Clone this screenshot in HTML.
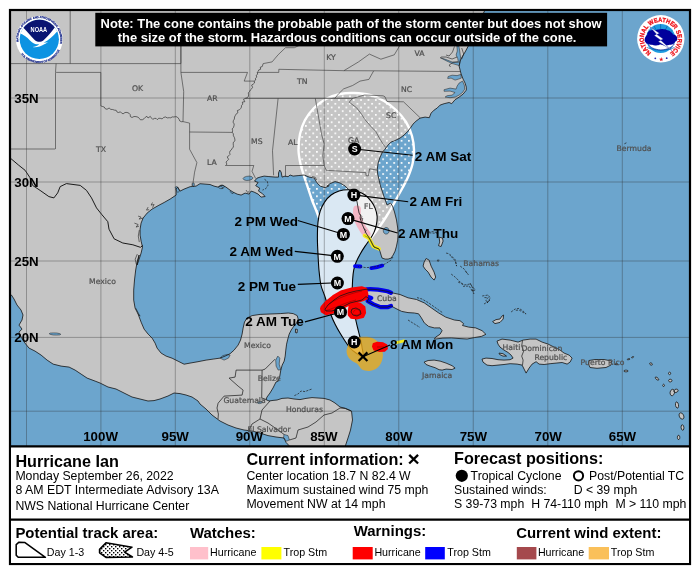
<!DOCTYPE html>
<html lang="en"><head><meta charset="utf-8"><title>Hurricane Ian - NHC Forecast Cone</title>
<style>
html,body{margin:0;padding:0;background:#fff;}
body{width:700px;height:574px;overflow:hidden;font-family:"Liberation Sans",sans-serif;}
svg{display:block;will-change:transform}
text{font-family:"Liberation Sans",sans-serif;}
.b{font-weight:bold}
.t16{font-size:16.2px;font-weight:bold}
.t15{font-size:14.95px;font-weight:bold}
.t12{font-size:12.27px}
.t11{font-size:10.7px}
.ml{font-size:13.5px;font-weight:bold}
.gl{font-size:13.3px;font-weight:bold}
.pl{font-size:7.7px;fill:#505050;stroke:#505050;stroke-width:0.22px;font-family:"DejaVu Sans","Liberation Sans",sans-serif}
.mk{font-size:8.9px;font-weight:bold;fill:#fff;text-anchor:middle}
</style></head><body>
<svg width="700" height="574" viewBox="0 0 700 574">
<defs>
<clipPath id="mapclip"><rect x="10" y="10" width="680" height="436"/></clipPath>
<pattern id="dots" x="327.1" y="102.9" width="7.36" height="7.4" patternUnits="userSpaceOnUse">
<rect x="0" y="0" width="1.7" height="1.7" fill="#fff"/><rect x="3.68" y="3.7" width="1.7" height="1.7" fill="#fff"/>
</pattern>
</defs>
<rect x="0" y="0" width="700" height="574" fill="#fff"/>
<g clip-path="url(#mapclip)">

<rect x="10" y="10" width="680" height="436" fill="#6ca5cd"/>
<path d="M8.0,8.0 L486.0,8.0 L470.0,40.0 L468.1,46.4 L465.1,52.0 L462.1,57.0 L460.1,61.0 L459.1,66.0 L460.1,70.0 L461.1,74.0 L463.1,79.1 L465.1,83.1 L466.3,87.1 L466.3,90.1 L463.1,94.1 L459.1,97.1 L455.1,99.7 L451.7,103.7 L449.1,102.5 L444.1,103.7 L440.1,105.1 L437.1,108.1 L434.1,110.1 L431.1,113.1 L429.3,117.7 L425.1,117.1 L420.1,118.1 L416.1,121.1 L413.0,124.1 L411.0,127.1 L408.0,131.1 L404.0,135.1 L400.0,138.1 L396.0,140.1 L391.0,142.1 L388.0,145.1 L385.0,149.2 L382.4,152.2 L380.1,157.1 L378.1,163.1 L377.3,169.1 L377.7,174.1 L379.1,180.1 L380.5,186.1 L382.5,192.1 L384.5,198.2 L387.1,205.0 L390.5,203.0 L392.5,206.0 L394.5,212.0 L396.5,220.0 L397.7,228.0 L398.1,234.0 L397.7,240.1 L396.5,246.1 L395.1,251.1 L393.1,255.1 L391.1,258.1 L388.1,259.1 L385.1,259.1 L382.1,258.1 L381.1,255.1 L380.1,251.7 L379.1,249.1 L374.0,247.1 L372.0,243.1 L370.0,239.1 L368.0,236.1 L366.0,233.0 L362.1,224.1 L360.1,218.1 L360.5,215.1 L359.1,213.1 L358.1,208.1 L357.1,202.0 L355.1,196.0 L348.1,189.0 L345.1,186.0 L340.1,183.0 L335.1,181.6 L330.1,183.6 L327.1,186.0 L329.2,185.7 L325.2,187.7 L320.2,186.1 L317.2,183.1 L314.2,178.1 L309.2,177.1 L304.1,175.0 L298.1,175.6 L293.1,176.1 L290.1,175.0 L288.1,176.7 L285.1,176.1 L282.1,177.1 L281.1,172.0 L279.7,170.0 L278.5,173.0 L278.5,177.1 L275.1,177.1 L268.1,176.5 L264.1,176.1 L260.1,177.1 L257.1,178.1 L254.5,181.1 L258.1,182.5 L255.7,185.7 L259.7,188.1 L258.5,191.1 L262.5,193.7 L265.1,196.5 L261.1,197.1 L258.1,194.1 L254.1,192.1 L251.1,191.1 L249.1,194.1 L245.1,193.1 L241.1,195.1 L237.1,194.1 L233.0,192.1 L230.0,190.1 L226.0,187.1 L222.0,185.1 L218.0,187.1 L214.0,186.1 L210.0,184.5 L205.0,184.1 L200.0,183.7 L196.1,186.1 L192.5,186.5 L190.1,186.7 L184.1,189.1 L180.1,191.1 L177.7,187.1 L176.1,189.1 L176.1,195.1 L170.1,199.1 L164.1,202.5 L158.1,205.7 L152.1,209.1 L147.1,213.1 L143.1,218.1 L141.1,223.1 L140.1,229.1 L140.1,235.1 L141.1,241.1 L142.5,247.1 L141.1,253.1 L139.1,259.2 L137.1,265.0 L139.1,255.0 L137.1,262.0 L135.7,270.0 L134.5,280.0 L133.7,290.1 L133.7,300.1 L135.1,308.1 L138.1,314.1 L141.1,322.1 L144.1,329.1 L148.1,334.1 L152.1,338.1 L155.1,343.1 L157.1,348.1 L161.1,353.1 L166.1,356.1 L172.1,358.2 L178.1,361.2 L184.1,364.2 L190.0,363.1 L198.0,361.7 L206.1,360.1 L213.1,359.1 L220.1,358.1 L225.1,356.1 L230.1,353.7 L234.1,350.1 L238.1,345.1 L240.5,340.1 L242.1,334.1 L243.1,328.1 L244.5,322.0 L247.1,318.0 L252.1,315.6 L260.1,314.4 L270.1,314.0 L280.2,313.6 L288.2,313.0 L293.2,313.6 L297.2,315.6 L298.2,319.0 L296.6,323.0 L293.2,327.1 L291.2,330.1 L289.2,334.1 L287.8,339.1 L286.6,344.1 L285.8,350.1 L285.2,356.1 L284.2,361.1 L282.2,365.1 L280.8,370.1 L279.8,376.1 L278.2,381.1 L276.0,382.0 L273.0,388.0 L270.0,393.0 L267.0,397.0 L266.0,399.6 L269.0,401.0 L273.0,400.4 L277.0,400.0 L282.0,398.4 L288.0,398.0 L294.0,399.0 L300.0,399.6 L306.0,398.4 L312.0,397.6 L318.0,398.0 L324.0,398.4 L330.0,400.0 L335.0,403.0 L340.0,407.0 L345.5,408.4 L351.5,411.0 L352.5,420.0 L350.5,430.0 L348.0,438.0 L345.0,447.0 L289.0,447.0 L289.0,445.6 L286.0,442.4 L284.0,438.0 L276.0,437.0 L268.0,435.6 L260.0,433.0 L252.0,431.0 L244.0,430.0 L236.0,428.0 L228.0,425.0 L220.0,421.0 L212.0,415.0 L206.0,409.0 L200.0,404.0 L198.0,401.0 L192.0,397.0 L186.0,395.0 L180.0,393.6 L174.0,393.0 L168.0,396.0 L160.0,399.0 L154.0,400.6 L148.0,401.0 L140.0,399.0 L132.0,397.0 L124.0,393.0 L116.0,389.0 L108.0,387.0 L100.0,383.0 L95.1,381.1 L87.1,378.1 L81.1,374.1 L75.1,370.1 L69.1,367.1 L61.1,366.1 L53.1,364.1 L47.1,360.1 L41.1,355.1 L35.0,351.1 L29.0,348.1 L25.0,343.1 L21.4,337.5 L19.0,332.1 L22.0,329.1 L19.0,325.1 L22.0,320.0 L23.0,315.0 L21.0,310.0 L17.0,305.0 L14.0,299.0 L11.4,295.0 L8.0,295.0Z" fill="#c5c5c5"/>
<path d="M325.0,309.2 L328.0,305.0 L334.0,300.0 L340.0,296.0 L348.0,293.0 L356.0,291.0 L362.0,290.0 L366.0,289.3 L373.0,289.3 L380.0,290.0 L387.4,291.4 L391.0,292.6 L400.0,294.5 L408.0,297.8 L416.5,299.5 L424.3,302.9 L431.4,307.9 L438.6,312.9 L445.7,317.1 L454.3,320.0 L460.0,320.7 L463.6,323.6 L462.5,325.5 L468.6,327.1 L475.7,327.9 L482.1,330.7 L485.9,334.3 L481.4,336.4 L474.3,337.6 L467.1,339.0 L460.0,338.6 L451.4,337.9 L442.9,338.1 L434.3,339.2 L435.7,337.1 L440.0,334.3 L442.1,330.7 L440.0,327.9 L434.3,327.9 L428.6,326.4 L424.3,322.9 L421.4,317.9 L418.6,313.8 L414.3,313.0 L408.0,312.6 L401.7,311.4 L396.0,308.6 L391.0,305.9 L387.4,307.1 L380.3,307.1 L373.1,304.3 L367.0,301.4 L369.0,298.6 L366.0,296.6 L362.0,300.0 L356.0,301.5 L350.0,303.0 L344.0,306.0 L338.0,309.0 L332.0,311.0 L326.0,311.0Z" fill="#c5c5c5"/>
<path d="M352.0,309.0 L356.0,308.0 L360.0,310.0 L361.0,314.0 L357.0,316.0 L353.0,315.0 L351.0,312.0Z" fill="#c5c5c5"/>
<path d="M424.1,362.1 L428.1,360.5 L434.1,360.1 L440.1,361.1 L446.1,363.1 L452.1,365.7 L455.1,368.1 L452.1,369.5 L446.1,369.1 L442.1,370.1 L439.1,369.7 L435.1,367.7 L430.1,366.1 L426.1,364.5Z" fill="#c5c5c5"/>
<path d="M497.0,341.1 L502.0,339.1 L510.1,340.1 L518.1,342.1 L523.1,340.1 L530.1,339.1 L536.1,339.1 L542.1,342.1 L548.1,344.1 L554.1,347.1 L560.1,350.1 L564.1,353.1 L569.1,355.1 L572.1,358.1 L570.1,362.1 L567.1,364.1 L562.1,362.5 L556.1,363.1 L550.1,363.7 L544.1,364.5 L539.1,364.1 L536.1,361.7 L532.1,364.1 L529.1,368.1 L526.1,373.1 L524.1,369.1 L522.1,365.1 L517.1,364.1 L510.1,363.7 L504.0,364.5 L498.0,365.1 L492.0,365.7 L487.0,365.1 L483.0,362.1 L482.0,359.1 L486.0,358.1 L492.0,358.5 L498.0,359.7 L504.0,360.1 L510.1,359.7 L513.1,358.1 L511.1,355.1 L508.1,352.5 L504.0,350.1 L500.0,347.1 L498.0,344.1Z" fill="#c5c5c5"/>
<path d="M499.0,353.1 L503.0,353.7 L506.5,356.1 L503.0,356.1 L499.6,354.5Z" fill="#c5c5c5"/>
<path d="M589.0,360.5 L595.0,359.5 L604.0,359.5 L611.5,361.0 L611.0,365.0 L606.0,367.5 L597.0,368.3 L590.0,367.5 L588.5,364.0Z" fill="#c5c5c5"/>
<path d="M492.6,321.6 L496.0,319.6 L500.0,319.0 L502.0,316.0 L503.6,315.0 L503.2,319.0 L500.0,322.4 L495.0,323.6Z" fill="#c5c5c5"/>
<path d="M426.1,258.5 L429.1,260.1 L431.1,266.1 L434.1,272.1 L435.7,277.1 L434.1,280.1 L431.1,277.1 L428.1,272.1 L425.1,269.1 L423.1,266.1 L424.1,262.1Z" fill="#c5c5c5"/>
<path d="M439.1,237.1 L442.5,238.1 L443.1,241.1 L441.1,246.5 L438.5,245.7 L439.7,242.1Z" fill="#c5c5c5"/>
<path d="M295.6,329.0 L297.4,329.5 L297.0,333.0 L295.4,332.5Z" fill="#c5c5c5"/>
<path d="M674.5,392.9 L673.7,394.7 L672.4,395.7 L671.1,395.5 L670.2,394.1 L670.1,392.1 L670.9,390.3 L672.2,389.3 L673.5,389.5 L674.4,390.9Z" fill="#c5c5c5"/>
<path d="M678.1,390.0 L678.0,391.1 L677.2,392.0 L675.9,392.5 L674.6,392.3 L673.9,391.6 L674.0,390.5 L674.8,389.6 L676.1,389.1 L677.4,389.3Z" fill="#c5c5c5"/>
<path d="M678.5,404.7 L678.5,406.6 L678.0,407.9 L677.1,408.1 L676.1,407.1 L675.5,405.3 L675.5,403.4 L676.0,402.1 L676.9,401.9 L677.9,402.9Z" fill="#c5c5c5"/>
<path d="M683.5,415.1 L684.0,417.1 L683.5,418.6 L682.3,419.2 L680.7,418.6 L679.5,416.9 L679.0,414.9 L679.5,413.4 L680.7,412.8 L682.3,413.4Z" fill="#c5c5c5"/>
<path d="M683.9,427.4 L683.8,429.0 L683.2,430.1 L682.3,430.2 L681.5,429.2 L681.1,427.6 L681.2,426.0 L681.8,424.9 L682.7,424.8 L683.5,425.8Z" fill="#c5c5c5"/>
<path d="M658.7,380.0 L658.0,380.2 L656.9,379.8 L655.9,378.9 L655.3,377.9 L655.3,377.2 L656.0,377.0 L657.1,377.4 L658.1,378.3 L658.7,379.3Z" fill="#c5c5c5"/>
<path d="M672.0,380.6 L671.7,381.4 L670.8,381.9 L669.8,381.9 L668.9,381.4 L668.6,380.6 L668.9,379.8 L669.8,379.3 L670.8,379.3 L671.7,379.8Z" fill="#c5c5c5"/>
<path d="M670.7,373.4 L670.5,374.2 L669.9,374.6 L669.3,374.6 L668.7,374.2 L668.5,373.4 L668.7,372.6 L669.3,372.2 L669.9,372.2 L670.5,372.6Z" fill="#c5c5c5"/>
<path d="M664.5,385.4 L664.3,386.1 L663.9,386.5 L663.3,386.5 L662.9,386.1 L662.7,385.4 L662.9,384.7 L663.3,384.3 L663.9,384.3 L664.3,384.7Z" fill="#c5c5c5"/>
<path d="M652.3,364.8 L651.8,365.1 L650.9,365.1 L650.1,364.6 L649.7,363.9 L649.7,363.2 L650.2,362.9 L651.1,362.9 L651.9,363.4 L652.3,364.1Z" fill="#c5c5c5"/>
<path d="M628.2,371.0 L627.8,371.5 L626.7,371.8 L625.3,371.8 L624.2,371.5 L623.8,371.0 L624.2,370.5 L625.3,370.2 L626.7,370.2 L627.8,370.5Z" fill="#c5c5c5"/>
<path d="M679.8,437.4 L679.6,438.7 L679.0,439.5 L678.2,439.5 L677.6,438.7 L677.4,437.4 L677.6,436.1 L678.2,435.3 L679.0,435.3 L679.6,436.1Z" fill="#c5c5c5"/>
<path d="M618.1,364.2 L617.8,364.5 L617.0,364.7 L616.0,364.7 L615.2,364.5 L614.9,364.2 L615.2,363.9 L616.0,363.7 L617.0,363.7 L617.8,363.9Z" fill="#c5c5c5"/>
<path d="M630.0,359.0 L629.8,359.3 L629.1,359.6 L628.3,359.7 L627.5,359.7 L627.2,359.4 L627.4,359.1 L628.1,358.8 L628.9,358.7 L629.7,358.7Z" fill="#c5c5c5"/>
<path d="M633.7,356.8 L633.6,357.1 L633.1,357.5 L632.4,357.8 L631.8,357.8 L631.5,357.6 L631.6,357.3 L632.1,356.9 L632.8,356.6 L633.4,356.6Z" fill="#c5c5c5"/>
<path d="M389.2,230.8 L388.6,232.8 L387.1,234.0 L385.3,234.0 L383.8,232.8 L383.2,230.8 L383.8,228.8 L385.3,227.6 L387.1,227.6 L388.6,228.8Z" fill="#6ca5cd"/>
<path d="M253.0,177.9 L252.1,179.2 L249.7,180.2 L246.6,180.5 L244.1,179.9 L243.0,178.7 L243.9,177.4 L246.3,176.4 L249.4,176.1 L251.9,176.7Z" fill="#6ca5cd"/>
<path d="M460.1,61.6 L460.5,57.0 L459.7,51.0 L458.9,46.0 L456.9,46.0 L457.3,51.0 L456.1,55.0 L457.7,58.4 L458.5,62.4 L452.1,62.0 L446.1,59.6 L440.1,57.6 L447.1,61.2 L452.5,63.6 L459.3,65.6Z" fill="#6ca5cd"/>
<path d="M460.9,74.4 L457.1,75.6 L452.1,75.2 L448.1,76.5 L447.7,78.5 L451.1,78.1 L455.1,80.1 L458.5,79.1 L461.3,78.1Z" fill="#6ca5cd"/>
<path d="M462.5,81.1 L459.1,83.1 L457.1,86.1 L456.1,89.1 L450.1,88.1 L444.1,89.7 L444.1,91.3 L450.1,91.1 L455.1,92.5 L452.1,95.1 L447.1,95.7 L445.1,97.1 L450.1,97.7 L455.1,97.1 L459.1,95.1 L462.5,92.5 L464.7,89.1 L464.3,85.1Z" fill="#6ca5cd"/>
<path d="M220.1,358.1 L222.5,355.7 L227.1,354.5 L230.1,355.1 L228.5,358.1 L224.1,360.1Z" fill="#6ca5cd"/>
<path d="M280.8,369.7 L279.2,364.1 L279.8,358.1 L277.8,356.1 L275.7,360.1 L276.1,366.1 L278.2,370.1Z" fill="#6ca5cd"/>
<path d="M284.0,434.4 L288.0,435.6 L289.4,440.0 L286.4,441.2 L283.6,438.0Z" fill="#6ca5cd"/>
<path d="M179.7,191.1 L177.1,186.5 L175.1,187.1 L176.1,190.1 L177.7,192.5Z" fill="#6ca5cd"/>
<path d="M60.8,334.3 L59.7,334.9 L56.7,335.1 L53.2,335.0 L50.3,334.4 L49.2,333.7 L50.3,333.1 L53.3,332.9 L56.8,333.0 L59.7,333.6Z" fill="#6ca5cd"/>
<path d="M262.6,402.0 L262.2,402.7 L261.0,403.3 L259.4,403.6 L258.0,403.4 L257.4,403.0 L257.8,402.3 L259.0,401.7 L260.6,401.4 L262.0,401.6Z" fill="#6ca5cd"/>
<path d="M224.5,186.5 L224.0,187.6 L222.6,188.4 L220.8,188.6 L219.2,188.2 L218.5,187.3 L219.0,186.2 L220.4,185.4 L222.2,185.2 L223.8,185.6Z" fill="#6ca5cd"/>
<path d="M194.4,184.6 L194.2,185.7 L193.6,186.3 L192.8,186.3 L192.2,185.7 L192.0,184.6 L192.2,183.5 L192.8,182.9 L193.6,182.9 L194.2,183.5Z" fill="#6ca5cd"/>
<mask id="m45" maskUnits="userSpaceOnUse" x="0" y="0" width="700" height="574"><path d="M318.6,217.0 C318.2,215.8 317.1,212.8 316.0,210.0 C314.9,207.2 313.3,203.7 312.0,200.0 C310.7,196.3 309.3,192.0 308.0,188.0 C306.7,184.0 305.2,180.0 304.0,176.0 C302.8,172.0 301.4,168.3 300.5,164.0 C299.6,159.7 298.6,155.0 298.5,150.0 C298.4,145.0 298.9,139.0 300.0,134.0 C301.1,129.0 302.7,124.3 305.0,120.0 C307.3,115.7 310.5,111.5 314.0,108.0 C317.5,104.5 321.7,101.3 326.0,99.0 C330.3,96.7 335.3,95.0 340.0,94.0 C344.7,93.0 349.0,92.8 354.0,93.0 C359.0,93.2 365.0,93.7 370.0,95.0 C375.0,96.3 379.7,98.5 384.0,101.0 C388.3,103.5 392.3,106.5 396.0,110.0 C399.7,113.5 403.3,117.7 406.0,122.0 C408.7,126.3 410.7,131.3 412.0,136.0 C413.3,140.7 413.9,145.3 414.0,150.0 C414.1,154.7 413.5,159.5 412.5,164.0 C411.5,168.5 409.6,173.2 408.0,177.0 C406.4,180.8 404.7,183.8 403.0,187.0 C401.3,190.2 399.8,192.7 398.0,196.0 C396.2,199.3 394.0,203.5 392.0,207.0 C390.0,210.5 388.0,213.8 386.0,217.0 C384.0,220.2 382.0,223.2 380.0,226.0 C378.0,228.8 375.5,232.0 374.0,234.0 C372.5,236.0 371.5,237.3 371.0,238.0 L360,225 L330,225 Z" fill="#fff"/><path d="M320.9,285.0 C320.0,280.9 319.5,275.3 319.0,270.2 C318.5,265.1 318.3,259.6 318.0,254.2 C317.7,248.8 317.4,243.4 317.4,238.1 C317.4,232.8 317.5,226.6 318.0,222.1 C318.5,217.6 319.1,214.4 320.2,211.1 C321.3,207.8 322.8,204.8 324.6,202.1 C326.4,199.4 328.7,196.8 331.1,195.0 C333.5,193.2 336.3,191.9 339.1,191.0 C341.9,190.1 345.1,189.8 348.1,189.8 C351.1,189.8 354.3,190.3 357.1,191.2 C359.9,192.1 362.8,193.3 365.1,195.0 C367.4,196.7 369.4,198.9 371.1,201.1 C372.8,203.3 374.1,205.6 375.1,208.1 C376.1,210.6 376.9,213.4 377.1,216.1 C377.3,218.8 377.0,221.4 376.5,224.1 C376.0,226.8 375.2,229.6 374.1,232.1 C373.0,234.6 371.6,236.8 370.1,239.1 C368.6,241.4 366.8,243.6 365.1,246.1 C363.4,248.6 361.6,251.5 360.1,254.2 C358.6,256.9 357.2,259.5 356.1,262.2 C355.0,264.9 354.3,267.2 353.7,270.2 C353.1,273.2 352.9,276.2 352.6,280.0 C352.4,283.8 352.2,289.5 352.2,293.0 C352.2,296.5 352.3,298.0 352.6,301.0 C352.9,304.0 353.4,307.7 354.0,311.0 C354.6,314.3 355.3,317.7 356.0,321.0 C356.7,324.3 357.7,328.0 358.4,331.0 C359.1,334.0 359.8,336.3 360.4,339.0 C361.0,341.7 361.6,344.1 362.0,347.0 C362.4,349.9 364.0,355.5 363.0,356.5 C362.0,357.5 358.2,354.4 356.0,353.0 C353.8,351.6 351.8,350.0 350.0,348.0 C348.2,346.0 346.7,343.5 345.0,341.0 C343.3,338.5 341.7,335.8 340.0,333.0 C338.3,330.2 336.5,327.0 335.0,324.0 C333.5,321.0 332.2,318.2 331.0,315.0 C329.8,311.8 328.7,308.3 327.6,305.0 C326.5,301.7 325.5,298.3 324.4,295.0 C323.3,291.7 321.8,289.1 320.9,285.0Z" fill="#000" stroke="#000" stroke-width="1"/></mask>
<path d="M320.9,285.0 C320.0,280.9 319.5,275.3 319.0,270.2 C318.5,265.1 318.3,259.6 318.0,254.2 C317.7,248.8 317.4,243.4 317.4,238.1 C317.4,232.8 317.5,226.6 318.0,222.1 C318.5,217.6 319.1,214.4 320.2,211.1 C321.3,207.8 322.8,204.8 324.6,202.1 C326.4,199.4 328.7,196.8 331.1,195.0 C333.5,193.2 336.3,191.9 339.1,191.0 C341.9,190.1 345.1,189.8 348.1,189.8 C351.1,189.8 354.3,190.3 357.1,191.2 C359.9,192.1 362.8,193.3 365.1,195.0 C367.4,196.7 369.4,198.9 371.1,201.1 C372.8,203.3 374.1,205.6 375.1,208.1 C376.1,210.6 376.9,213.4 377.1,216.1 C377.3,218.8 377.0,221.4 376.5,224.1 C376.0,226.8 375.2,229.6 374.1,232.1 C373.0,234.6 371.6,236.8 370.1,239.1 C368.6,241.4 366.8,243.6 365.1,246.1 C363.4,248.6 361.6,251.5 360.1,254.2 C358.6,256.9 357.2,259.5 356.1,262.2 C355.0,264.9 354.3,267.2 353.7,270.2 C353.1,273.2 352.9,276.2 352.6,280.0 C352.4,283.8 352.2,289.5 352.2,293.0 C352.2,296.5 352.3,298.0 352.6,301.0 C352.9,304.0 353.4,307.7 354.0,311.0 C354.6,314.3 355.3,317.7 356.0,321.0 C356.7,324.3 357.7,328.0 358.4,331.0 C359.1,334.0 359.8,336.3 360.4,339.0 C361.0,341.7 361.6,344.1 362.0,347.0 C362.4,349.9 364.0,355.5 363.0,356.5 C362.0,357.5 358.2,354.4 356.0,353.0 C353.8,351.6 351.8,350.0 350.0,348.0 C348.2,346.0 346.7,343.5 345.0,341.0 C343.3,338.5 341.7,335.8 340.0,333.0 C338.3,330.2 336.5,327.0 335.0,324.0 C333.5,321.0 332.2,318.2 331.0,315.0 C329.8,311.8 328.7,308.3 327.6,305.0 C326.5,301.7 325.5,298.3 324.4,295.0 C323.3,291.7 321.8,289.1 320.9,285.0Z" fill="#fff" fill-opacity="0.75" stroke="none"/>
<rect x="290" y="85" width="135" height="165" fill="url(#dots)" mask="url(#m45)"/>
<path d="M318.6,217.0 C318.2,215.8 317.1,212.8 316.0,210.0 C314.9,207.2 313.3,203.7 312.0,200.0 C310.7,196.3 309.3,192.0 308.0,188.0 C306.7,184.0 305.2,180.0 304.0,176.0 C302.8,172.0 301.4,168.3 300.5,164.0 C299.6,159.7 298.6,155.0 298.5,150.0 C298.4,145.0 298.9,139.0 300.0,134.0 C301.1,129.0 302.7,124.3 305.0,120.0 C307.3,115.7 310.5,111.5 314.0,108.0 C317.5,104.5 321.7,101.3 326.0,99.0 C330.3,96.7 335.3,95.0 340.0,94.0 C344.7,93.0 349.0,92.8 354.0,93.0 C359.0,93.2 365.0,93.7 370.0,95.0 C375.0,96.3 379.7,98.5 384.0,101.0 C388.3,103.5 392.3,106.5 396.0,110.0 C399.7,113.5 403.3,117.7 406.0,122.0 C408.7,126.3 410.7,131.3 412.0,136.0 C413.3,140.7 413.9,145.3 414.0,150.0 C414.1,154.7 413.5,159.5 412.5,164.0 C411.5,168.5 409.6,173.2 408.0,177.0 C406.4,180.8 404.7,183.8 403.0,187.0 C401.3,190.2 399.8,192.7 398.0,196.0 C396.2,199.3 394.0,203.5 392.0,207.0 C390.0,210.5 388.0,213.8 386.0,217.0 C384.0,220.2 382.0,223.2 380.0,226.0 C378.0,228.8 375.5,232.0 374.0,234.0 C372.5,236.0 371.5,237.3 371.0,238.0" fill="none" stroke="#fff" stroke-width="2.4" stroke-linecap="round"/>
<path d="M320.9,285.0 C320.0,280.9 319.5,275.3 319.0,270.2 C318.5,265.1 318.3,259.6 318.0,254.2 C317.7,248.8 317.4,243.4 317.4,238.1 C317.4,232.8 317.5,226.6 318.0,222.1 C318.5,217.6 319.1,214.4 320.2,211.1 C321.3,207.8 322.8,204.8 324.6,202.1 C326.4,199.4 328.7,196.8 331.1,195.0 C333.5,193.2 336.3,191.9 339.1,191.0 C341.9,190.1 345.1,189.8 348.1,189.8 C351.1,189.8 354.3,190.3 357.1,191.2 C359.9,192.1 362.8,193.3 365.1,195.0 C367.4,196.7 369.4,198.9 371.1,201.1 C372.8,203.3 374.1,205.6 375.1,208.1 C376.1,210.6 376.9,213.4 377.1,216.1 C377.3,218.8 377.0,221.4 376.5,224.1 C376.0,226.8 375.2,229.6 374.1,232.1 C373.0,234.6 371.6,236.8 370.1,239.1 C368.6,241.4 366.8,243.6 365.1,246.1 C363.4,248.6 361.6,251.5 360.1,254.2 C358.6,256.9 357.2,259.5 356.1,262.2 C355.0,264.9 354.3,267.2 353.7,270.2 C353.1,273.2 352.9,276.2 352.6,280.0 C352.4,283.8 352.2,289.5 352.2,293.0 C352.2,296.5 352.3,298.0 352.6,301.0 C352.9,304.0 353.4,307.7 354.0,311.0 C354.6,314.3 355.3,317.7 356.0,321.0 C356.7,324.3 357.7,328.0 358.4,331.0 C359.1,334.0 359.8,336.3 360.4,339.0 C361.0,341.7 361.6,344.1 362.0,347.0 C362.4,349.9 364.0,355.5 363.0,356.5 C362.0,357.5 358.2,354.4 356.0,353.0 C353.8,351.6 351.8,350.0 350.0,348.0 C348.2,346.0 346.7,343.5 345.0,341.0 C343.3,338.5 341.7,335.8 340.0,333.0 C338.3,330.2 336.5,327.0 335.0,324.0 C333.5,321.0 332.2,318.2 331.0,315.0 C329.8,311.8 328.7,308.3 327.6,305.0 C326.5,301.7 325.5,298.3 324.4,295.0 C323.3,291.7 321.8,289.1 320.9,285.0Z" fill="none" stroke="#000" stroke-width="1.1"/>
<path d="M346.6,351.9 C346.5,350.6 346.6,349.3 347.1,347.9 C347.6,346.5 348.3,344.7 349.4,343.3 C350.4,341.9 351.8,340.3 353.4,339.3 C355.0,338.3 357.3,337.7 359.1,337.3 C360.9,336.9 362.5,336.8 364.3,336.8 C366.1,336.8 368.2,336.8 370.0,337.3 C371.8,337.8 373.6,338.6 375.1,339.6 C376.6,340.6 378.0,341.9 379.1,343.3 C380.2,344.7 381.1,346.3 381.7,347.9 C382.3,349.5 382.6,351.3 382.8,353.0 C383.0,354.7 382.9,356.4 382.6,358.1 C382.3,359.8 381.7,361.8 380.9,363.3 C380.1,364.8 379.1,366.2 378.0,367.3 C376.9,368.4 375.4,369.2 374.0,369.8 C372.6,370.4 370.9,370.8 369.4,370.9 C367.9,371.0 366.2,370.8 364.9,370.5 C363.6,370.2 362.4,369.7 361.4,369.0 C360.4,368.3 359.8,367.0 359.1,366.1 C358.4,365.2 358.3,364.6 357.4,363.9 C356.4,363.2 354.6,362.6 353.4,361.8 C352.2,361.0 350.9,360.3 350.0,359.3 C349.1,358.3 348.3,357.1 347.7,355.9 C347.1,354.7 346.7,353.2 346.6,351.9Z" fill="#eeab1a" fill-opacity="0.8"/>
<path d="M357,209.4 C356.4,214 357.6,219.5 360.4,224.6 C362.4,228.4 364.6,231.6 366.6,234" fill="none" stroke="#f4b3c2" stroke-opacity="0.96" stroke-width="7.8" stroke-linecap="round"/>
<path d="M364.6,235.6 L368.7,237.9 L371.2,242.4 L373.2,246.2 L379,248.7" fill="none" stroke="#f3ea1f" stroke-width="3.8" stroke-linecap="round" stroke-linejoin="round"/>
<path d="M364.6,235.6 L368.7,237.9 L371.2,242.4 L373.2,246.2 L379,248.7" fill="none" stroke="#6b6400" stroke-width="0.5"/>
<path d="M355,266.1 L360.4,266.5 M371.3,268.1 C375,267.8 379,267 382.3,265.6" fill="none" stroke="#0000f0" stroke-width="3.8" stroke-linecap="round"/>
<path d="M366.4,289.4 C372,288.8 380,289.8 387.4,291.3 L391,292.8 M366,296.3 L371.3,297.9 L367.6,301 L373.5,304.4 L380.5,307.1 L387.6,307.2 L391,305.9" fill="none" stroke="#0000f0" stroke-width="4.2" stroke-linecap="round" stroke-linejoin="round"/>
<path d="M321.7,307.1 L326,302.1 L333.1,296.4 L341.7,291.4 L351.7,288.6 L361.7,287.4 L366,288.8 L367.2,294.3 L366.5,298.6 L358.9,301.4 L351.7,303.6 L346.7,305.7 L334.6,312.1 L326,314 L321.9,311.4 L321.2,308.6Z" fill="#fa0000" stroke="#fa0000" stroke-width="2.4" stroke-linejoin="round"/>
<path d="M348.6,311.4 L349.6,305.9 L353.1,303.8 L360.3,303.8 L364.4,307.1 L365.1,312.9 L363.1,317 L357.4,318.4 L351,317.7 L348.8,315Z" fill="#fa0000" stroke="#fa0000" stroke-width="2" stroke-linejoin="round"/>
<path d="M372.8,346.4 L373.5,343.8 L377.4,342.5 L383.1,343.1 L386.5,345 L387.1,348.6 L384.6,351 L378.9,351.1 L374.1,349.8Z" fill="#fa0000" stroke="#fa0000" stroke-width="1.6" stroke-linejoin="round"/>
<path d="M396.6,342.7 L404,340.9" fill="none" stroke="#f3ea1f" stroke-width="2.8" stroke-linecap="round"/>
<path d="M326,310.5 C334,308.5 344,303 356,300 M329,304 C336,299 348,294 362,291 M353.5,312.5 C354,309 358.5,308.5 360,311.5 C361,314.5 357,316 354.5,314.5 M377,347 L384,347" fill="none" stroke="#7a0000" stroke-width="0.5"/>
<path d="M8.0,8.0 L486.0,8.0 L470.0,40.0 L468.1,46.4 L465.1,52.0 L462.1,57.0 L460.1,61.0 L459.1,66.0 L460.1,70.0 L461.1,74.0 L463.1,79.1 L465.1,83.1 L466.3,87.1 L466.3,90.1 L463.1,94.1 L459.1,97.1 L455.1,99.7 L451.7,103.7 L449.1,102.5 L444.1,103.7 L440.1,105.1 L437.1,108.1 L434.1,110.1 L431.1,113.1 L429.3,117.7 L425.1,117.1 L420.1,118.1 L416.1,121.1 L413.0,124.1 L411.0,127.1 L408.0,131.1 L404.0,135.1 L400.0,138.1 L396.0,140.1 L391.0,142.1 L388.0,145.1 L385.0,149.2 L382.4,152.2 L380.1,157.1 L378.1,163.1 L377.3,169.1 L377.7,174.1 L379.1,180.1 L380.5,186.1 L382.5,192.1 L384.5,198.2 L387.1,205.0 L390.5,203.0 L392.5,206.0 L394.5,212.0 L396.5,220.0 L397.7,228.0 L398.1,234.0 L397.7,240.1 L396.5,246.1 L395.1,251.1 L393.1,255.1 L391.1,258.1 L388.1,259.1 L385.1,259.1 L382.1,258.1 L381.1,255.1 L380.1,251.7 L379.1,249.1 L374.0,247.1 L372.0,243.1 L370.0,239.1 L368.0,236.1 L366.0,233.0 L362.1,224.1 L360.1,218.1 L360.5,215.1 L359.1,213.1 L358.1,208.1 L357.1,202.0 L355.1,196.0 L348.1,189.0 L345.1,186.0 L340.1,183.0 L335.1,181.6 L330.1,183.6 L327.1,186.0 L329.2,185.7 L325.2,187.7 L320.2,186.1 L317.2,183.1 L314.2,178.1 L309.2,177.1 L304.1,175.0 L298.1,175.6 L293.1,176.1 L290.1,175.0 L288.1,176.7 L285.1,176.1 L282.1,177.1 L281.1,172.0 L279.7,170.0 L278.5,173.0 L278.5,177.1 L275.1,177.1 L268.1,176.5 L264.1,176.1 L260.1,177.1 L257.1,178.1 L254.5,181.1 L258.1,182.5 L255.7,185.7 L259.7,188.1 L258.5,191.1 L262.5,193.7 L265.1,196.5 L261.1,197.1 L258.1,194.1 L254.1,192.1 L251.1,191.1 L249.1,194.1 L245.1,193.1 L241.1,195.1 L237.1,194.1 L233.0,192.1 L230.0,190.1 L226.0,187.1 L222.0,185.1 L218.0,187.1 L214.0,186.1 L210.0,184.5 L205.0,184.1 L200.0,183.7 L196.1,186.1 L192.5,186.5 L190.1,186.7 L184.1,189.1 L180.1,191.1 L177.7,187.1 L176.1,189.1 L176.1,195.1 L170.1,199.1 L164.1,202.5 L158.1,205.7 L152.1,209.1 L147.1,213.1 L143.1,218.1 L141.1,223.1 L140.1,229.1 L140.1,235.1 L141.1,241.1 L142.5,247.1 L141.1,253.1 L139.1,259.2 L137.1,265.0 L139.1,255.0 L137.1,262.0 L135.7,270.0 L134.5,280.0 L133.7,290.1 L133.7,300.1 L135.1,308.1 L138.1,314.1 L141.1,322.1 L144.1,329.1 L148.1,334.1 L152.1,338.1 L155.1,343.1 L157.1,348.1 L161.1,353.1 L166.1,356.1 L172.1,358.2 L178.1,361.2 L184.1,364.2 L190.0,363.1 L198.0,361.7 L206.1,360.1 L213.1,359.1 L220.1,358.1 L225.1,356.1 L230.1,353.7 L234.1,350.1 L238.1,345.1 L240.5,340.1 L242.1,334.1 L243.1,328.1 L244.5,322.0 L247.1,318.0 L252.1,315.6 L260.1,314.4 L270.1,314.0 L280.2,313.6 L288.2,313.0 L293.2,313.6 L297.2,315.6 L298.2,319.0 L296.6,323.0 L293.2,327.1 L291.2,330.1 L289.2,334.1 L287.8,339.1 L286.6,344.1 L285.8,350.1 L285.2,356.1 L284.2,361.1 L282.2,365.1 L280.8,370.1 L279.8,376.1 L278.2,381.1 L276.0,382.0 L273.0,388.0 L270.0,393.0 L267.0,397.0 L266.0,399.6 L269.0,401.0 L273.0,400.4 L277.0,400.0 L282.0,398.4 L288.0,398.0 L294.0,399.0 L300.0,399.6 L306.0,398.4 L312.0,397.6 L318.0,398.0 L324.0,398.4 L330.0,400.0 L335.0,403.0 L340.0,407.0 L345.5,408.4 L351.5,411.0 L352.5,420.0 L350.5,430.0 L348.0,438.0 L345.0,447.0 L289.0,447.0 L289.0,445.6 L286.0,442.4 L284.0,438.0 L276.0,437.0 L268.0,435.6 L260.0,433.0 L252.0,431.0 L244.0,430.0 L236.0,428.0 L228.0,425.0 L220.0,421.0 L212.0,415.0 L206.0,409.0 L200.0,404.0 L198.0,401.0 L192.0,397.0 L186.0,395.0 L180.0,393.6 L174.0,393.0 L168.0,396.0 L160.0,399.0 L154.0,400.6 L148.0,401.0 L140.0,399.0 L132.0,397.0 L124.0,393.0 L116.0,389.0 L108.0,387.0 L100.0,383.0 L95.1,381.1 L87.1,378.1 L81.1,374.1 L75.1,370.1 L69.1,367.1 L61.1,366.1 L53.1,364.1 L47.1,360.1 L41.1,355.1 L35.0,351.1 L29.0,348.1 L25.0,343.1 L21.4,337.5 L19.0,332.1 L22.0,329.1 L19.0,325.1 L22.0,320.0 L23.0,315.0 L21.0,310.0 L17.0,305.0 L14.0,299.0 L11.4,295.0 L8.0,295.0Z M325.0,309.2 L328.0,305.0 L334.0,300.0 L340.0,296.0 L348.0,293.0 L356.0,291.0 L362.0,290.0 L366.0,289.3 L373.0,289.3 L380.0,290.0 L387.4,291.4 L391.0,292.6 L400.0,294.5 L408.0,297.8 L416.5,299.5 L424.3,302.9 L431.4,307.9 L438.6,312.9 L445.7,317.1 L454.3,320.0 L460.0,320.7 L463.6,323.6 L462.5,325.5 L468.6,327.1 L475.7,327.9 L482.1,330.7 L485.9,334.3 L481.4,336.4 L474.3,337.6 L467.1,339.0 L460.0,338.6 L451.4,337.9 L442.9,338.1 L434.3,339.2 L435.7,337.1 L440.0,334.3 L442.1,330.7 L440.0,327.9 L434.3,327.9 L428.6,326.4 L424.3,322.9 L421.4,317.9 L418.6,313.8 L414.3,313.0 L408.0,312.6 L401.7,311.4 L396.0,308.6 L391.0,305.9 L387.4,307.1 L380.3,307.1 L373.1,304.3 L367.0,301.4 L369.0,298.6 L366.0,296.6 L362.0,300.0 L356.0,301.5 L350.0,303.0 L344.0,306.0 L338.0,309.0 L332.0,311.0 L326.0,311.0Z M352.0,309.0 L356.0,308.0 L360.0,310.0 L361.0,314.0 L357.0,316.0 L353.0,315.0 L351.0,312.0Z M424.1,362.1 L428.1,360.5 L434.1,360.1 L440.1,361.1 L446.1,363.1 L452.1,365.7 L455.1,368.1 L452.1,369.5 L446.1,369.1 L442.1,370.1 L439.1,369.7 L435.1,367.7 L430.1,366.1 L426.1,364.5Z M497.0,341.1 L502.0,339.1 L510.1,340.1 L518.1,342.1 L523.1,340.1 L530.1,339.1 L536.1,339.1 L542.1,342.1 L548.1,344.1 L554.1,347.1 L560.1,350.1 L564.1,353.1 L569.1,355.1 L572.1,358.1 L570.1,362.1 L567.1,364.1 L562.1,362.5 L556.1,363.1 L550.1,363.7 L544.1,364.5 L539.1,364.1 L536.1,361.7 L532.1,364.1 L529.1,368.1 L526.1,373.1 L524.1,369.1 L522.1,365.1 L517.1,364.1 L510.1,363.7 L504.0,364.5 L498.0,365.1 L492.0,365.7 L487.0,365.1 L483.0,362.1 L482.0,359.1 L486.0,358.1 L492.0,358.5 L498.0,359.7 L504.0,360.1 L510.1,359.7 L513.1,358.1 L511.1,355.1 L508.1,352.5 L504.0,350.1 L500.0,347.1 L498.0,344.1Z M499.0,353.1 L503.0,353.7 L506.5,356.1 L503.0,356.1 L499.6,354.5Z M589.0,360.5 L595.0,359.5 L604.0,359.5 L611.5,361.0 L611.0,365.0 L606.0,367.5 L597.0,368.3 L590.0,367.5 L588.5,364.0Z M492.6,321.6 L496.0,319.6 L500.0,319.0 L502.0,316.0 L503.6,315.0 L503.2,319.0 L500.0,322.4 L495.0,323.6Z M426.1,258.5 L429.1,260.1 L431.1,266.1 L434.1,272.1 L435.7,277.1 L434.1,280.1 L431.1,277.1 L428.1,272.1 L425.1,269.1 L423.1,266.1 L424.1,262.1Z M439.1,237.1 L442.5,238.1 L443.1,241.1 L441.1,246.5 L438.5,245.7 L439.7,242.1Z M295.6,329.0 L297.4,329.5 L297.0,333.0 L295.4,332.5Z M674.5,392.9 L673.7,394.7 L672.4,395.7 L671.1,395.5 L670.2,394.1 L670.1,392.1 L670.9,390.3 L672.2,389.3 L673.5,389.5 L674.4,390.9Z M678.1,390.0 L678.0,391.1 L677.2,392.0 L675.9,392.5 L674.6,392.3 L673.9,391.6 L674.0,390.5 L674.8,389.6 L676.1,389.1 L677.4,389.3Z M678.5,404.7 L678.5,406.6 L678.0,407.9 L677.1,408.1 L676.1,407.1 L675.5,405.3 L675.5,403.4 L676.0,402.1 L676.9,401.9 L677.9,402.9Z M683.5,415.1 L684.0,417.1 L683.5,418.6 L682.3,419.2 L680.7,418.6 L679.5,416.9 L679.0,414.9 L679.5,413.4 L680.7,412.8 L682.3,413.4Z M683.9,427.4 L683.8,429.0 L683.2,430.1 L682.3,430.2 L681.5,429.2 L681.1,427.6 L681.2,426.0 L681.8,424.9 L682.7,424.8 L683.5,425.8Z M658.7,380.0 L658.0,380.2 L656.9,379.8 L655.9,378.9 L655.3,377.9 L655.3,377.2 L656.0,377.0 L657.1,377.4 L658.1,378.3 L658.7,379.3Z M672.0,380.6 L671.7,381.4 L670.8,381.9 L669.8,381.9 L668.9,381.4 L668.6,380.6 L668.9,379.8 L669.8,379.3 L670.8,379.3 L671.7,379.8Z M670.7,373.4 L670.5,374.2 L669.9,374.6 L669.3,374.6 L668.7,374.2 L668.5,373.4 L668.7,372.6 L669.3,372.2 L669.9,372.2 L670.5,372.6Z M664.5,385.4 L664.3,386.1 L663.9,386.5 L663.3,386.5 L662.9,386.1 L662.7,385.4 L662.9,384.7 L663.3,384.3 L663.9,384.3 L664.3,384.7Z M652.3,364.8 L651.8,365.1 L650.9,365.1 L650.1,364.6 L649.7,363.9 L649.7,363.2 L650.2,362.9 L651.1,362.9 L651.9,363.4 L652.3,364.1Z M628.2,371.0 L627.8,371.5 L626.7,371.8 L625.3,371.8 L624.2,371.5 L623.8,371.0 L624.2,370.5 L625.3,370.2 L626.7,370.2 L627.8,370.5Z M679.8,437.4 L679.6,438.7 L679.0,439.5 L678.2,439.5 L677.6,438.7 L677.4,437.4 L677.6,436.1 L678.2,435.3 L679.0,435.3 L679.6,436.1Z M618.1,364.2 L617.8,364.5 L617.0,364.7 L616.0,364.7 L615.2,364.5 L614.9,364.2 L615.2,363.9 L616.0,363.7 L617.0,363.7 L617.8,363.9Z M630.0,359.0 L629.8,359.3 L629.1,359.6 L628.3,359.7 L627.5,359.7 L627.2,359.4 L627.4,359.1 L628.1,358.8 L628.9,358.7 L629.7,358.7Z M633.7,356.8 L633.6,357.1 L633.1,357.5 L632.4,357.8 L631.8,357.8 L631.5,357.6 L631.6,357.3 L632.1,356.9 L632.8,356.6 L633.4,356.6Z" fill="none" stroke="#141414" stroke-width="0.8" stroke-linejoin="round"/>
<path d="M389.2,230.8 L388.6,232.8 L387.1,234.0 L385.3,234.0 L383.8,232.8 L383.2,230.8 L383.8,228.8 L385.3,227.6 L387.1,227.6 L388.6,228.8Z M253.0,177.9 L252.1,179.2 L249.7,180.2 L246.6,180.5 L244.1,179.9 L243.0,178.7 L243.9,177.4 L246.3,176.4 L249.4,176.1 L251.9,176.7Z M460.1,61.6 L460.5,57.0 L459.7,51.0 L458.9,46.0 L456.9,46.0 L457.3,51.0 L456.1,55.0 L457.7,58.4 L458.5,62.4 L452.1,62.0 L446.1,59.6 L440.1,57.6 L447.1,61.2 L452.5,63.6 L459.3,65.6Z M460.9,74.4 L457.1,75.6 L452.1,75.2 L448.1,76.5 L447.7,78.5 L451.1,78.1 L455.1,80.1 L458.5,79.1 L461.3,78.1Z M462.5,81.1 L459.1,83.1 L457.1,86.1 L456.1,89.1 L450.1,88.1 L444.1,89.7 L444.1,91.3 L450.1,91.1 L455.1,92.5 L452.1,95.1 L447.1,95.7 L445.1,97.1 L450.1,97.7 L455.1,97.1 L459.1,95.1 L462.5,92.5 L464.7,89.1 L464.3,85.1Z M220.1,358.1 L222.5,355.7 L227.1,354.5 L230.1,355.1 L228.5,358.1 L224.1,360.1Z M280.8,369.7 L279.2,364.1 L279.8,358.1 L277.8,356.1 L275.7,360.1 L276.1,366.1 L278.2,370.1Z M284.0,434.4 L288.0,435.6 L289.4,440.0 L286.4,441.2 L283.6,438.0Z M179.7,191.1 L177.1,186.5 L175.1,187.1 L176.1,190.1 L177.7,192.5Z M60.8,334.3 L59.7,334.9 L56.7,335.1 L53.2,335.0 L50.3,334.4 L49.2,333.7 L50.3,333.1 L53.3,332.9 L56.8,333.0 L59.7,333.6Z M262.6,402.0 L262.2,402.7 L261.0,403.3 L259.4,403.6 L258.0,403.4 L257.4,403.0 L257.8,402.3 L259.0,401.7 L260.6,401.4 L262.0,401.6Z M224.5,186.5 L224.0,187.6 L222.6,188.4 L220.8,188.6 L219.2,188.2 L218.5,187.3 L219.0,186.2 L220.4,185.4 L222.2,185.2 L223.8,185.6Z M194.4,184.6 L194.2,185.7 L193.6,186.3 L192.8,186.3 L192.2,185.7 L192.0,184.6 L192.2,183.5 L192.8,182.9 L193.6,182.9 L194.2,183.5Z" fill="none" stroke="#1c1c1c" stroke-width="0.5" stroke-linejoin="round"/>
<path d="M9.0,157.0 L18.8,165.3 L25.1,170.3 L30.1,177.8 L32.6,185.4 L40.1,190.4 L48.9,196.6 L53.9,197.9 L57.7,192.9 L60.2,186.6 L66.4,183.6 L80.2,185.4 L86.5,190.4 L91.5,197.9 L96.5,207.9 L101.5,214.2 L107.8,221.7 L109.0,229.2 L114.1,238.8 L122.8,243.0 L132.9,244.8 L140.4,247.3 L142.9,245.5" fill="none" stroke="#111" stroke-width="0.95" stroke-linejoin="round"/>
<path d="M275.1,359.1 L270.1,364.1 L265.1,369.1 L262.1,370.1 L236.1,370.1 L235.1,377.1 L229.1,378.1 L238.1,386.1 L243.1,390.1 L242.1,395.1 L224.1,396.1 L218.1,403.2 L217.0,408.0 L218.4,414.0 L218.0,419.0 M262.1,370.1 L261.7,398.2 L262.0,398.0 L266.4,399.6 M270.0,401.0 L262.0,410.0 L260.0,419.0 L252.0,424.0 L249.0,430.0 M260.0,419.0 L268.0,423.0 L278.0,430.0 L284.0,434.4 M289.4,440.0 L296.0,438.0 L298.0,430.0 L308.0,427.0 L316.0,422.0 L324.0,415.0 L332.0,413.0 L340.0,408.0 L345.0,408.4 L351.0,411.0 M522.5,340.5 L521.7,346.1 L523.7,351.1 L521.7,356.1 L523.1,360.1 L522.5,365.1 M624.4,143.8 L626.4,142.8" fill="none" stroke="#151515" stroke-width="0.7" stroke-linejoin="round"/>
<path d="M393.0,257.0 L390.0,261.0 L385.0,264.0 L378.0,266.0 L372.0,267.3 L366.0,267.6 L358.0,266.6 M428.1,232.0 L433.1,231.6 L438.1,233.0 L434.1,233.2 L429.1,232.8 M446.1,253.1 L449.2,253.7 L455.2,259.7 L456.6,266.1 L455.4,261.1 L449.8,255.1 M460.2,266.1 L464.2,269.1 L468.2,274.5 L465.2,271.1 M451.2,274.1 L455.2,277.1 L460.2,282.1 L464.2,285.1 M470.2,283.1 L472.6,288.1 L473.8,293.7 L471.8,289.1 M437.3,260.1 L439.3,260.1 L439.3,261.1 L437.5,261.1 L437.3,260.1 M417.0,297.6 L422.0,299.0 L428.0,302.5 L433.0,306.0 L438.0,309.5 L443.0,313.0 M408.0,320.0 L412.0,322.5 L416.0,325.0 L420.0,327.5 M482.2,296.0 L488.2,295.0 L490.2,298.0 L487.2,303.0 L485.8,300.0 L488.2,297.6 L483.8,297.6 M458.1,282.0 L464.1,285.0 L470.2,284.0 L475.2,290.0 L472.2,291.0 L469.2,286.0 L463.1,286.4 M511.1,312.0 L515.1,309.0 L519.1,308.4 L523.1,311.0 L526.1,314.0 L523.1,312.4 L519.1,310.0 L515.1,310.4 M484.0,304.0 L489.0,301.0 L490.0,300.0 L487.0,303.0 M264.5,179.3 L267.3,181.3 L268.1,185.1 L265.7,188.7 L262.5,190.1 M294.4,395.6 L298.0,394.0 L301.0,391.0 L305.0,391.6 L309.0,390.0 L312.0,389.0" fill="none" stroke="#1c1c1c" stroke-width="0.7" stroke-linejoin="round" stroke-dasharray="2.2 1.2"/>
<path d="M100.8,105.9 L102.5,106.5 L104.2,107.0 L105.2,108.7 L107.0,109.3 L109.1,108.0 L110.8,109.4 L112.7,109.5 L114.3,110.1 L116.2,110.3 L117.1,112.1 L118.6,112.5 L120.4,111.8 L121.7,113.2 L123.1,113.8 L125.0,112.5 L127.0,112.4 L129.1,113.3 L130.2,114.6 L130.4,116.6 L132.0,117.5 L134.0,116.5 L136.0,116.6 L138.0,117.2 L139.3,118.3 L140.4,119.8 L142.5,119.7 L144.1,118.7 L145.3,117.3 L146.9,116.3 L148.0,118.0 L150.3,116.4 L151.4,118.0 L152.7,119.3 L154.5,118.4 L156.1,118.4 L157.4,119.7 L158.6,118.3 L160.2,118.3 L162.1,118.9 L163.3,117.7 L165.3,116.9 L167.3,117.9 L169.3,117.7 L170.8,117.8 L172.2,116.9 L173.8,117.0 L175.2,116.7 L177.1,116.9 L178.2,118.0 L179.1,119.3 L179.7,120.9 L181.3,121.7 L183.0,121.6 M263.2,63.6 L262.7,65.1 L262.2,66.6 L260.3,67.2 L260.6,69.3 L258.8,69.9 L258.3,71.3 L257.2,72.4 L257.7,74.2 L256.2,75.3 L256.8,77.1 L255.4,78.3 L255.7,80.0 L254.2,81.1 L254.5,83.0 L253.2,84.1 L251.6,85.1 L252.6,87.3 L251.8,88.6 L250.5,89.8 L249.6,91.4 L248.3,92.9 L248.6,94.9 L248.3,96.7 L246.9,97.8 L245.3,98.4 L243.5,99.2 L244.8,101.7 L242.3,102.1 L242.8,104.1 L241.6,105.3 L241.4,107.2 L240.6,108.6 L239.4,109.8 L237.4,110.5 L237.9,112.8 L236.3,113.8 L235.4,115.4 L234.5,117.0 L234.4,119.0 L233.4,120.6 L233.1,122.2 L234.2,124.0 L234.0,125.7 L233.5,127.4 L232.2,128.9 L232.6,130.7 L232.3,132.4 L233.4,133.9 L233.4,135.8 L234.3,137.3 L234.8,139.0 L235.0,140.8 L233.4,142.2 L233.2,143.9 L233.4,145.7 L233.3,147.4 L231.9,148.5 L231.4,149.9 L230.0,151.0 L229.6,152.6 L230.0,154.5 L228.9,155.7 L227.2,156.9 L228.6,159.3 L227.4,160.7 L226.0,162.0 L226.9,164.2 L225.5,165.5 M454.5,46.4 L452.5,52.0 L449.1,56.0 L446.1,55.0 M457.1,57.0 L452.1,59.0 L446.1,57.0 L441.1,57.0 M458.1,61.6 L453.1,62.4 L449.1,65.0 L450.5,67.0 M461.7,48.0 L463.7,54.0 L461.7,59.0 M152.5,202.5 L151.1,205.1 L154.1,204.5 L152.5,207.7 M148.1,207.1 L146.5,210.1 L149.1,209.7 M138.1,216.1 L141.1,217.1 L139.1,219.1 L143.1,218.1 M134.4,223.1 L138.1,224.5 L136.1,227.1 L139.1,226.1 M139.3,230.1 L138.3,236.1 L139.3,242.1 M137.3,254.1 L135.2,259.2 L136.3,264.2 M135.7,308.1 L138.7,313.7 L140.1,316.1 L137.7,313.7 M312.2,176.5 L315.2,177.3 L316.6,180.1 M220.0,185.7 L223.0,187.7 L221.6,189.1 M230.0,191.1 L232.0,193.7 L234.0,192.5 M246.1,190.1 L247.7,192.5 L249.3,191.3 M359.6,214.0 L361.8,216.5 L360.4,219.6 L362.8,218.2 L362.2,221.5 M364.2,228.5 L366.0,230.5 L365.0,232.6" fill="none" stroke="#1c1c1c" stroke-width="0.6" stroke-linejoin="round"/>
<path d="M0.9,149.0 L55.2,149.0 M55.5,149.0 L55.5,72.4 L56.1,63.6 M3.9,63.6 L180.9,63.6 L180.9,36.9 M70.2,63.6 L70.2,-18.2 M56.1,72.4 L100.8,72.4 L100.8,105.9 M180.9,63.6 L180.9,72.4 L183.7,91.5 L183.0,121.6 L189.6,123.1 L189.6,132.0 M189.6,132.0 L189.6,149.2 L193.1,155.7 L196.9,162.6 L194.6,172.1 L193.9,177.0 L192.4,186.7 M180.9,72.4 L247.5,72.4 L244.2,81.1 L254.2,81.1 M189.6,132.0 L232.3,132.4 M225.5,165.5 L253.8,165.5 L252.0,171.3 L255.7,178.6 M257.2,72.4 L278.8,72.4 L278.8,69.3 L343.9,70.7 L373.7,70.8 M263.2,63.6 L272.1,61.9 L278.1,54.8 L285.5,47.7 L294.4,47.7 L301.9,44.1 M373.7,70.8 L460.3,71.5 M245.3,98.4 L352.6,98.4 M278.1,98.4 L272.5,150.7 L273.6,175.3 M315.3,98.4 L321.6,134.5 L324.2,144.0 L322.8,155.7 L324.2,165.5 L326.3,170.3 M285.5,177.0 L285.5,165.5 L324.2,165.5 M326.3,170.3 L365.8,172.6 L366.0,175.7 L368.2,176.0 L369.7,168.8 L377.1,170.1 M352.6,98.4 L349.2,102.2 L356.6,107.8 L361.0,113.5 L365.3,120.0 L370.5,126.0 L375.7,131.4 L380.0,139.2 L383.0,144.0 L385.7,147.5 M352.6,98.4 L364.5,95.0 L383.1,95.8 L384.9,96.7 L387.1,101.5 L403.5,101.8 L420.4,118.0 M373.7,70.8 L368.9,79.4 L360.0,81.1 L352.6,85.5 L343.6,88.9 L339.1,93.3 L334.7,98.4 M343.9,70.7 L358.5,61.9 L369.4,54.1 L380.9,59.2 L394.3,54.8 L401.7,42.3 L422.6,24.3 L433.0,22.5 M180.9,63.6 L180.9,27.9" fill="none" stroke="#333" stroke-width="0.6" stroke-linejoin="round"/>
<path d="M26.5,10 V446 M100.9,10 V446 M175.3,10 V446 M249.8,10 V446 M324.3,10 V446 M398.75,10 V446 M473.25,10 V446 M547.8,10 V446 M622.3,10 V446 M10,98 H690 M10,182 H690 M10,261 H690 M10,337.4 H690 M10,411.2 H690" fill="none" stroke="#2c2c2c" stroke-width="0.5" stroke-opacity="0.7"/>
<line x1="355" y1="149" x2="412.7" y2="155.3" stroke="#000" stroke-width="1.1"/>
<line x1="353.8" y1="194.9" x2="408.2" y2="201.7" stroke="#000" stroke-width="1.1"/>
<line x1="348" y1="218.6" x2="397.6" y2="233" stroke="#000" stroke-width="1.1"/>
<line x1="297.8" y1="220.5" x2="343.5" y2="234.3" stroke="#000" stroke-width="1.1"/>
<line x1="294.8" y1="251.4" x2="337.4" y2="256.1" stroke="#000" stroke-width="1.1"/>
<line x1="297.8" y1="284.4" x2="337.4" y2="282.7" stroke="#000" stroke-width="1.1"/>
<line x1="304.9" y1="321.9" x2="340.5" y2="312.3" stroke="#000" stroke-width="1.1"/>
<line x1="363" y1="356.7" x2="390" y2="345" stroke="#000" stroke-width="1.1"/>
<circle cx="354.6" cy="149" r="6.5" fill="#000"/><text x="354.6" y="152.25" class="mk">S</text>
<circle cx="353.9" cy="195" r="6.5" fill="#000"/><text x="353.9" y="198.25" class="mk">H</text>
<circle cx="348" cy="218.6" r="6.5" fill="#000"/><text x="348" y="221.85" class="mk">M</text>
<circle cx="343.4" cy="234.4" r="6.5" fill="#000"/><text x="343.4" y="237.65" class="mk">M</text>
<circle cx="337.3" cy="256.3" r="6.5" fill="#000"/><text x="337.3" y="259.55" class="mk">M</text>
<circle cx="337.4" cy="283" r="6.5" fill="#000"/><text x="337.4" y="286.25" class="mk">M</text>
<circle cx="340.5" cy="312.2" r="6.5" fill="#000"/><text x="340.5" y="315.45" class="mk">M</text>
<circle cx="354.2" cy="342" r="6.5" fill="#000"/><text x="354.2" y="345.25" class="mk">H</text>
<path d="M358.6,352.4 L367.4,361 M367.4,352.4 L358.6,361" stroke="#000" stroke-width="2.2" fill="none"/>
<text x="414.7" y="161" class="ml">2 AM Sat</text>
<text x="409.4" y="206.2" class="ml">2 AM Fri</text>
<text x="398" y="238" class="ml">2 AM Thu</text>
<text x="234.4" y="225.5" class="ml">2 PM Wed</text>
<text x="229.6" y="255.6" class="ml">2 AM Wed</text>
<text x="237.7" y="291" class="ml">2 PM Tue</text>
<text x="245.2" y="326.1" class="ml">2 AM Tue</text>
<text x="390.1" y="348.7" class="ml">8 AM Mon</text>
<text x="132" y="90.7" class="pl">OK</text>
<text x="207" y="101" class="pl">AR</text>
<text x="297" y="83.5" class="pl">TN</text>
<text x="326.2" y="59.5" class="pl">KY</text>
<text x="251" y="143.5" class="pl">MS</text>
<text x="288" y="145.3" class="pl">AL</text>
<text x="414.4" y="55.7" class="pl">VA</text>
<text x="401" y="92.3" class="pl">NC</text>
<text x="386" y="118" class="pl">SC</text>
<text x="348" y="143.3" class="pl">GA</text>
<text x="207" y="165.3" class="pl">LA</text>
<text x="96" y="151.5" class="pl">TX</text>
<text x="364" y="208.7" class="pl">FL</text>
<text x="89" y="284" class="pl">Mexico</text>
<text x="244" y="347.7" class="pl">Mexico</text>
<text x="257.7" y="381.3" class="pl">Belize</text>
<text x="223.4" y="403.4" class="pl">Guatemala</text>
<text x="286" y="412.2" class="pl">Honduras</text>
<text x="247.5" y="431.5" class="pl">El Salvador</text>
<text x="377" y="301" class="pl">Cuba</text>
<text x="422" y="377.6" class="pl">Jamaica</text>
<text x="502.6" y="350.2" class="pl">Haiti</text>
<text x="521.4" y="350.7" class="pl">Dominican</text>
<text x="534.4" y="360.2" class="pl">Republic</text>
<text x="580.6" y="365.3" class="pl">Puerto Rico</text>
<text x="463.3" y="265.8" class="pl">Bahamas</text>
<text x="616.5" y="151" class="pl">Bermuda</text>
<text x="14.3" y="102.8" class="gl">35N</text>
<text x="14.3" y="186.6" class="gl">30N</text>
<text x="14.3" y="265.7" class="gl">25N</text>
<text x="14.3" y="342.2" class="gl">20N</text>
<text x="100.6" y="440.7" class="gl" text-anchor="middle">100W</text>
<text x="175.2" y="440.7" class="gl" text-anchor="middle">95W</text>
<text x="249.4" y="440.7" class="gl" text-anchor="middle">90W</text>
<text x="323.9" y="440.7" class="gl" text-anchor="middle">85W</text>
<text x="399" y="440.7" class="gl" text-anchor="middle">80W</text>
<text x="473.4" y="440.7" class="gl" text-anchor="middle">75W</text>
<text x="548.2" y="440.7" class="gl" text-anchor="middle">70W</text>
<text x="622.5" y="440.7" class="gl" text-anchor="middle">65W</text>
</g>
<rect x="95.3" y="12.8" width="511.8" height="33.6" fill="#000"/>
<text x="100.6" y="27.6" fill="#fff" style="font-size:12.94px;font-weight:bold">Note: The cone contains the probable path of the storm center but does not show</text>
<text x="117.8" y="41.6" fill="#fff" style="font-size:12.94px;font-weight:bold">the size of the storm. Hazardous conditions can occur outside of the cone.</text>
<g id="noaa">
<circle cx="39.3" cy="39.3" r="23.4" fill="#fff"/>
<clipPath id="nc"><circle cx="39.3" cy="39.3" r="19.6"/></clipPath>
<g clip-path="url(#nc)">
<rect x="18" y="18" width="44" height="44" fill="#0d93e2"/>
<path d="M17,33 C22,33.6 26.5,36.6 30,40.4 C33,43.4 36,44.6 39.3,44.2 C37,46 34.6,46.8 32.6,47 C36,47.6 40.5,46.8 44.3,44.3 C46,43.4 47.2,42.6 48.6,42.2 C46.6,42.2 45,42.4 43.6,42.8 C49,40 53.4,35.6 56.4,32.2 C58.6,29.8 61,28.6 63,28.6 L63,20 L17,20Z" fill="#fff"/>
<path d="M17,18 H63 V24 C59,24.6 56,26.2 54,28.4 C50.6,32.6 47.4,36.8 43.6,40.2 C41,42.2 37.6,42.2 35.2,40.4 C31.4,37.2 27.4,31.6 23.6,28 C21.6,26.4 19,26 17,26.4Z" fill="#0a1572"/>
</g>
<text x="30.6" y="32.1" fill="#fff" textLength="16.6" lengthAdjust="spacingAndGlyphs" style="font-size:6.4px;font-weight:bold">NOAA</text>
<path id="ncirc" d="M18.6,42.6 A21,21 0 1 1 60,42.6" fill="none"/>
<text style="font-size:2.7px;fill:#1b2b8a;font-weight:bold;stroke:#1b2b8a;stroke-width:0.2px"><textPath href="#ncirc" startOffset="1" textLength="81" lengthAdjust="spacingAndGlyphs">NATIONAL OCEANIC AND ATMOSPHERIC ADMINISTRATION</textPath></text>
<path id="ncirc2" d="M17.4,46 A22.6,22.6 0 0 0 61.2,46" fill="none"/>
<text style="font-size:2.7px;fill:#1b2b8a;font-weight:bold;stroke:#1b2b8a;stroke-width:0.2px"><textPath href="#ncirc2" startOffset="9">U.S. DEPARTMENT OF COMMERCE</textPath></text>
</g>
<g id="nws">
<circle cx="660.8" cy="38.8" r="23.7" fill="#fff"/>
<circle cx="660.6" cy="38.6" r="14.5" fill="#1f9be0"/>
<path d="M660.6,24.2 V31 M654,25.8 L656.6,31 M667.4,25.8 L664.8,31 M648.6,30 L652,32.6 M672.8,30 L669.6,32.6 M647,47.5 C655,51 667,51 674.5,47.5" fill="none" stroke="#0d5fa8" stroke-width="0.7"/>
<path d="M648.2,43.8 C649.6,47.4 654.6,49.6 660.8,49.9 C667.4,49.8 672.6,47 674.4,43.8Z" fill="#fff" stroke="#0a1590" stroke-width="0.6"/>
<path d="M644.6,40.3 C644.4,38.4 645.4,36.4 647.2,34.7 C647.2,33 648,31.6 649.6,30.8 C651.6,29.8 653.6,30 655.3,30.7 C656.4,29.8 657.4,29.6 658.6,29.6 C660,29 662,28.9 663.8,29.2 C665.4,29.2 666.6,29.6 667.6,30.3 C669,30.4 670,31 670.6,31.9 C672,32.4 672.8,33.2 673,34.4 C674.6,34.4 675.8,35 676.2,36 C677.4,37 677.4,38.4 677,39.4 C677,40.6 676.4,41.2 675.4,41.5 C675,42.6 674.4,43.2 673.2,43.4 C672.4,44.4 671,44.8 669.4,44.8 C668,45.6 666,45.8 664.3,45.4 C663,45.2 661.6,44.8 660.3,44.3 C659,45.2 657.6,45.4 656.3,45.4 C654.8,45.6 653.4,45.4 652.2,44.8 C650.6,44.8 649.2,44.4 648.2,43.8 C646.8,43.8 645.8,43.2 645.6,42.2 C644.8,41.8 644.5,41 644.6,40.3Z" fill="#00009c"/>
<path d="M649.7,26.7 L659.4,33.2 L657,34.6 L663.2,39 L660.8,40.2 L672,50.6 L658.2,41.4 L660.8,40.2 L654.2,35.6 L656.6,34.2Z" fill="#fff" stroke="#0a1590" stroke-width="0.35"/>
<path id="wcirc" d="M651.14,52.6 A16.85,16.85 0 1 1 670.22,52.77" fill="none"/>
<text style="font-size:6.3px;fill:#ee1018;font-weight:bold;stroke:#ee1018;stroke-width:0.3px"><textPath href="#wcirc" startOffset="0" textLength="85.5" lengthAdjust="spacingAndGlyphs">NATIONAL WEATHER SERVICE</textPath></text>
<circle cx="655.3" cy="58.3" r="0.9" fill="#2b2bb0"/><circle cx="666.7" cy="58.2" r="0.9" fill="#2b2bb0"/>
<text x="660.9" y="60.7" text-anchor="middle" style="font-size:4.6px;fill:#e8141c;font-weight:bold">★</text>
</g>
<rect x="10" y="10" width="680" height="554" fill="none" stroke="#000" stroke-width="2.2"/>
<rect x="11" y="447" width="678" height="116" fill="#fff"/>
<line x1="9" y1="446.3" x2="691" y2="446.3" stroke="#000" stroke-width="2.2"/>
<line x1="9" y1="519.6" x2="691" y2="519.6" stroke="#000" stroke-width="2.2"/>
<text x="15.4" y="466.5" class="t16">Hurricane Ian</text>
<text x="15.4" y="479.7" class="t12">Monday September 26, 2022</text>
<text x="15.4" y="494" class="t12" style="font-size:12.35px">8 AM EDT Intermediate Advisory 13A</text>
<text x="15.4" y="509.6" class="t12">NWS National Hurricane Center</text>
<text x="246.4" y="464.8" class="t16">Current information: <tspan x="407.6" dy="1.2" style="font-size:21px">×</tspan></text>
<text x="246.4" y="480" class="t12">Center location 18.7 N 82.4 W</text>
<text x="246.4" y="493.8" class="t12">Maximum sustained wind 75 mph</text>
<text x="246.4" y="508" class="t12">Movement NW at 14 mph</text>
<text x="454" y="463.6" class="t16">Forecast positions:</text>
<circle cx="461.8" cy="475.8" r="6.1" fill="#000"/>
<text x="470.6" y="479.7" class="t12">Tropical Cyclone</text>
<circle cx="578.5" cy="475.8" r="4.6" fill="#fff" stroke="#000" stroke-width="2"/>
<text x="589" y="479.7" class="t12">Post/Potential TC</text>
<text x="454" y="494" class="t12">Sustained winds:</text>
<text x="573.7" y="494" class="t12">D &lt; 39 mph</text>
<text x="454" y="508.1" class="t12">S 39-73 mph</text>
<text x="531.2" y="508.1" class="t12">H 74-110 mph</text>
<text x="615.4" y="508.1" class="t12">M &gt; 110 mph</text>
<text x="15.4" y="537.8" class="t15">Potential track area:</text>
<path d="M16.2,547 L16.2,544.6 L19,542.2 L25,542.6 L45.4,557.3 L18.2,557.3 L16.2,555.2Z" fill="#fff" stroke="#000" stroke-width="1.55" stroke-linejoin="round"/>
<text x="46.8" y="555.5" class="t11">Day 1-3</text>
<pattern id="bdots" x="101" y="544" width="4" height="4" patternUnits="userSpaceOnUse"><rect x="0" y="0" width="4" height="4" fill="#fff"/><rect x="0" y="0" width="1.4" height="1.4" fill="#000"/><rect x="2" y="2" width="1.4" height="1.4" fill="#000"/></pattern>
<path d="M99.6,551 L99.6,549.4 L106,542.8 L132,547.2 L124.6,552.1 L132.4,557 L106,557.4 L99.6,552.8Z" fill="url(#bdots)" stroke="#000" stroke-width="1.6" stroke-linejoin="round"/>
<text x="136.4" y="555.5" class="t11">Day 4-5</text>
<text x="189.9" y="537.8" class="t15">Watches:</text>
<rect x="190" y="547" width="18.2" height="12.4" fill="#ffc0cb"/>
<text x="210" y="555.5" class="t11">Hurricane</text>
<rect x="261.4" y="547" width="20" height="12.4" fill="#ffff00"/>
<text x="283.5" y="555.5" class="t11">Trop Stm</text>
<text x="353.7" y="536.2" class="t15">Warnings:</text>
<rect x="352.7" y="547" width="20" height="12.4" fill="#ff0000"/>
<text x="374.4" y="555.5" class="t11">Hurricane</text>
<rect x="425.2" y="547" width="19.6" height="12.4" fill="#0000ff"/>
<text x="447.3" y="555.5" class="t11">Trop Stm</text>
<text x="516.2" y="537.8" class="t15">Current wind extent:</text>
<rect x="516.8" y="547" width="19.6" height="12.4" fill="#a5494d"/>
<text x="537.9" y="555.5" class="t11">Hurricane</text>
<rect x="588.7" y="547" width="20.3" height="12.4" fill="#fac05a"/>
<text x="610.8" y="555.5" class="t11">Trop Stm</text>
</svg></body></html>
